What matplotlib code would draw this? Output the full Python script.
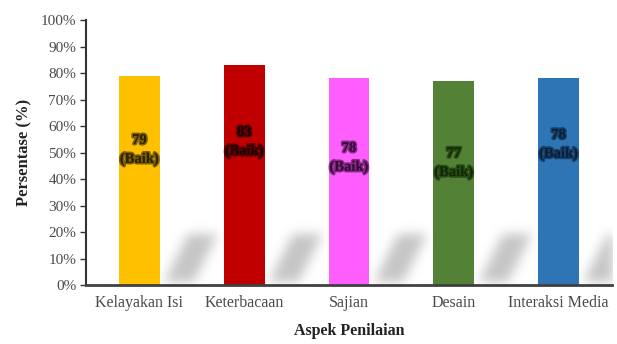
import matplotlib.pyplot as plt
import matplotlib.patheffects as pe
import numpy as np

aspek = ['Kelayakan Isi', 'Keterbacaan', 'Sajian', 'Desain', 'Interaksi Media']
nilai = [79, 83, 78, 77, 78]
kategori = ['Baik', 'Baik', 'Baik', 'Baik', 'Baik']
warna = ['#FFC000', '#C00000', '#FF5EFF', '#538135', '#2E75B6']
warna_teks = ['#2a2100', '#200000', '#3a0a3a', '#0f2a05', '#0a1f3a']
label_y = [51, 54, 48, 46, 53]

plt.rcParams['font.family'] = ['Liberation Serif', 'DejaVu Serif']

fig = plt.figure(figsize=(6.17, 3.44), dpi=100)
ax = fig.add_axes([0.1394, 0.1715, 0.8526, 0.7703])

x = np.arange(len(aspek))
xmin, xmax = -0.51, 4.51
ax.set_xlim(xmin, xmax)
ax.set_ylim(0, 100)

# soft diagonal shadows behind the bars
nx, ny = 526, 265
gx = np.linspace(xmin, xmax, nx)
gy = np.linspace(0, 100, ny)
X, Y = np.meshgrid(gx, gy)
mask = np.zeros((ny, nx))
sh = 19.0
for c in x:
    t = Y / sh
    left = c + 0.22 + 0.24 * t
    right = c + 0.50 + 0.24 * t
    mask[(Y <= sh) & (Y >= 1.0) & (X >= left) & (X <= right)] = 1.0

def blur(a, s):
    r = int(3 * s)
    k = np.exp(-0.5 * (np.arange(-r, r + 1) / s) ** 2)
    k /= k.sum()
    a = np.apply_along_axis(lambda v: np.convolve(v, k, mode='same'), 1, a)
    a = np.apply_along_axis(lambda v: np.convolve(v, k, mode='same'), 0, a)
    return a

mask = blur(mask, 5.5)
rgba = np.zeros((ny, nx, 4))
rgba[..., :3] = 0.55
rgba[..., 3] = mask * 0.5
ax.imshow(rgba, extent=(xmin, xmax, 0, 100), origin='lower', aspect='auto',
          zorder=0, interpolation='bilinear')

ax.bar(x, nilai, width=0.39, color=warna, zorder=2)

for i in range(len(x)):
    ax.text(x[i], label_y[i], '%d\n(%s)' % (nilai[i], kategori[i]),
            ha='center', va='center', fontsize=10.5, fontweight='bold',
            color=warna_teks[i], linespacing=1.55, zorder=3,
            path_effects=[pe.withStroke(linewidth=2.4, foreground=warna_teks[i], alpha=0.6)])

ax.set_yticks(np.arange(0, 101, 10))
ax.set_yticklabels(['%d%%' % v for v in range(0, 101, 10)])
ax.set_xticks(x)
ax.set_xticklabels(aspek)
ax.tick_params(axis='y', direction='out', length=4, width=1, color='#333333',
               labelsize=11, labelcolor='#4a4a4a', pad=3)
ax.tick_params(axis='x', length=0, labelsize=11.5, labelcolor='#4a4a4a', pad=7)

for s in ['top', 'right']:
    ax.spines[s].set_visible(False)
ax.spines['left'].set_color('#333333')
ax.spines['left'].set_linewidth(1.5)
ax.spines['bottom'].set_color('#404040')
ax.spines['bottom'].set_linewidth(2)

ax.set_ylabel('Persentase (%)', fontsize=12, fontweight='bold', color='#222222', labelpad=6)
ax.set_xlabel('Aspek Penilaian', fontsize=11.5, fontweight='bold', color='#222222', labelpad=9)

fig.savefig('out.png', dpi=100)
